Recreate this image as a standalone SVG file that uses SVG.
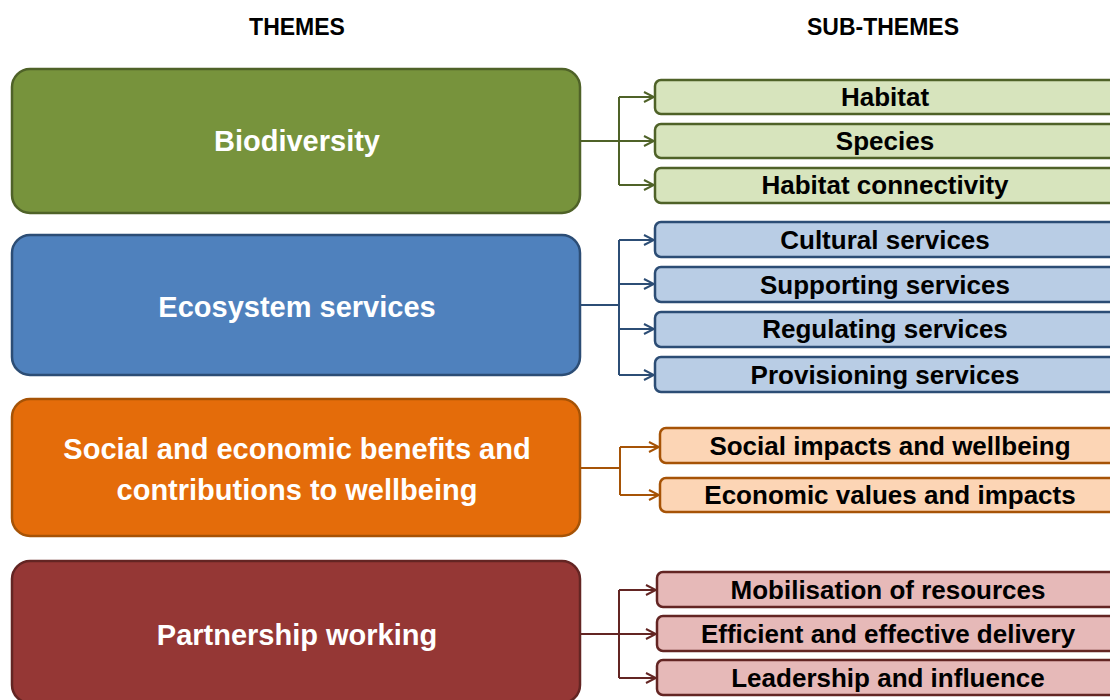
<svg xmlns="http://www.w3.org/2000/svg" width="1110" height="700" viewBox="0 0 1110 700">
<style>
  text { font-family: "Liberation Sans", Arial, sans-serif; font-weight: bold; text-anchor: middle; }
  .hdr { font-size: 23px; fill: #000; }
  .theme { font-size: 29px; fill: #fff; }
  .sub { font-size: 26px; fill: #000; }
  .t { stroke-width: 2.5; }
  .s { stroke-width: 2.5; }
  .c { fill: none; stroke-width: 2; }
  .g1 { fill: #77933C; stroke: #4F6228; }
  .g2 { fill: #D7E4BD; stroke: #4F6228; }
  .b1 { fill: #4F81BD; stroke: #2C4D75; }
  .b2 { fill: #B9CDE5; stroke: #2C4D75; }
  .o1 { fill: #E46C0A; stroke: #A65306; }
  .o2 { fill: #FCD5B5; stroke: #A65306; }
  .r1 { fill: #953735; stroke: #632523; }
  .r2 { fill: #E6B9B8; stroke: #632523; }
</style>
<defs>
  <marker id="ag" markerWidth="12" markerHeight="12" refX="11" refY="6" orient="auto" markerUnits="userSpaceOnUse"><path d="M1,1 L11,6 L1,11" fill="none" stroke="#4F6228" stroke-width="2"/></marker>
  <marker id="ab" markerWidth="12" markerHeight="12" refX="11" refY="6" orient="auto" markerUnits="userSpaceOnUse"><path d="M1,1 L11,6 L1,11" fill="none" stroke="#2C4D75" stroke-width="2"/></marker>
  <marker id="ao" markerWidth="12" markerHeight="12" refX="11" refY="6" orient="auto" markerUnits="userSpaceOnUse"><path d="M1,1 L11,6 L1,11" fill="none" stroke="#A65306" stroke-width="2"/></marker>
  <marker id="ar" markerWidth="12" markerHeight="12" refX="11" refY="6" orient="auto" markerUnits="userSpaceOnUse"><path d="M1,1 L11,6 L1,11" fill="none" stroke="#632523" stroke-width="2"/></marker>
</defs>
<rect width="1110" height="700" fill="#fff"/>
<g id="headers">
  <text class="hdr" x="297" y="35">THEMES</text>
  <text class="hdr" x="883" y="35">SUB-THEMES</text>
</g>
<g id="connectors">
  <path class="c" stroke="#4F6228" d="M580,141 H619"/>
  <path class="c" stroke="#4F6228" d="M619,97 V185"/>
  <path class="c" stroke="#4F6228" d="M619,97 H654" marker-end="url(#ag)"/>
  <path class="c" stroke="#4F6228" d="M619,141 H654" marker-end="url(#ag)"/>
  <path class="c" stroke="#4F6228" d="M619,185 H654" marker-end="url(#ag)"/>
  <path class="c" stroke="#2C4D75" d="M580,305 H619"/>
  <path class="c" stroke="#2C4D75" d="M619,240 V375"/>
  <path class="c" stroke="#2C4D75" d="M619,240 H654" marker-end="url(#ab)"/>
  <path class="c" stroke="#2C4D75" d="M619,284 H654" marker-end="url(#ab)"/>
  <path class="c" stroke="#2C4D75" d="M619,329 H654" marker-end="url(#ab)"/>
  <path class="c" stroke="#2C4D75" d="M619,375 H654" marker-end="url(#ab)"/>
  <path class="c" stroke="#A65306" d="M580,468 H620"/>
  <path class="c" stroke="#A65306" d="M620,447 V495"/>
  <path class="c" stroke="#A65306" d="M620,447 H659" marker-end="url(#ao)"/>
  <path class="c" stroke="#A65306" d="M620,495 H659" marker-end="url(#ao)"/>
  <path class="c" stroke="#632523" d="M580,634 H619"/>
  <path class="c" stroke="#632523" d="M619,590 V678"/>
  <path class="c" stroke="#632523" d="M619,590 H656" marker-end="url(#ar)"/>
  <path class="c" stroke="#632523" d="M619,634 H656" marker-end="url(#ar)"/>
  <path class="c" stroke="#632523" d="M619,678 H656" marker-end="url(#ar)"/>
</g>
<g id="theme-biodiversity">
  <rect class="t g1" x="12" y="69" width="568" height="144" rx="18"/>
  <text class="theme" x="297" y="151">Biodiversity</text>
</g>
<g id="theme-ecosystem">
  <rect class="t b1" x="12" y="235" width="568" height="140" rx="18"/>
  <text class="theme" x="297" y="317">Ecosystem services</text>
</g>
<g id="theme-social">
  <rect class="t o1" x="12" y="399" width="568" height="137" rx="18"/>
  <text class="theme" x="297" y="459">Social and economic benefits and</text>
  <text class="theme" x="297" y="500">contributions to wellbeing</text>
</g>
<g id="theme-partnership">
  <rect class="t r1" x="12" y="561" width="568" height="142" rx="18"/>
  <text class="theme" x="297" y="645">Partnership working</text>
</g>
<g id="sub-habitat">
  <rect class="s g2" x="655" y="80" width="470" height="34" rx="6"/>
  <text class="sub" x="885" y="106">Habitat</text>
</g>
<g id="sub-species">
  <rect class="s g2" x="655" y="124" width="470" height="34" rx="6"/>
  <text class="sub" x="885" y="150">Species</text>
</g>
<g id="sub-connectivity">
  <rect class="s g2" x="655" y="168" width="470" height="35" rx="6"/>
  <text class="sub" x="885" y="194">Habitat connectivity</text>
</g>
<g id="sub-cultural">
  <rect class="s b2" x="655" y="222" width="470" height="35" rx="6"/>
  <text class="sub" x="885" y="249">Cultural services</text>
</g>
<g id="sub-supporting">
  <rect class="s b2" x="655" y="267" width="470" height="35" rx="6"/>
  <text class="sub" x="885" y="294">Supporting services</text>
</g>
<g id="sub-regulating">
  <rect class="s b2" x="655" y="312" width="470" height="35" rx="6"/>
  <text class="sub" x="885" y="338">Regulating services</text>
</g>
<g id="sub-provisioning">
  <rect class="s b2" x="655" y="357" width="470" height="35" rx="6"/>
  <text class="sub" x="885" y="384">Provisioning services</text>
</g>
<g id="sub-social-impacts">
  <rect class="s o2" x="660" y="428" width="465" height="35" rx="6"/>
  <text class="sub" x="890" y="455">Social impacts and wellbeing</text>
</g>
<g id="sub-economic">
  <rect class="s o2" x="660" y="478" width="465" height="34" rx="6"/>
  <text class="sub" x="890" y="504">Economic values and impacts</text>
</g>
<g id="sub-mobilisation">
  <rect class="s r2" x="657" y="572" width="468" height="35" rx="6"/>
  <text class="sub" x="888" y="599">Mobilisation of resources</text>
</g>
<g id="sub-efficient">
  <rect class="s r2" x="657" y="616" width="468" height="35" rx="6"/>
  <text class="sub" x="888" y="643">Efficient and effective delivery</text>
</g>
<g id="sub-leadership">
  <rect class="s r2" x="657" y="660" width="468" height="35" rx="6"/>
  <text class="sub" x="888" y="687">Leadership and influence</text>
</g>
</svg>
